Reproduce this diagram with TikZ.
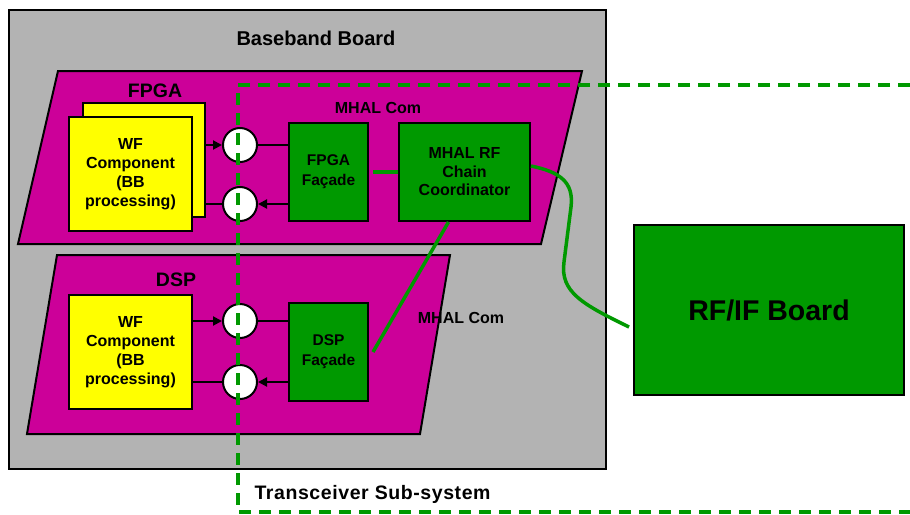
\documentclass[tikz,border=0pt]{standalone}
\usepackage{fontspec}
\setmainfont{Liberation Sans}
\usetikzlibrary{arrows.meta}
\definecolor{bbgray}{HTML}{B3B3B3}
\definecolor{mag}{HTML}{CC0099}
\definecolor{grn}{HTML}{009900}
\definecolor{yel}{HTML}{FFFF00}
\begin{document}
\begin{tikzpicture}[x=1pt,y=-1pt,
 box/.style={draw=black,line width=2pt,rectangle,inner sep=0pt,align=center,font=\bfseries\fontsize{16}{19}\selectfont},
 wf/.style={box,fill=yel,minimum width=123pt,minimum height=114pt},
 facade/.style={box,fill=grn,minimum width=79pt,minimum height=98pt,font=\bfseries\fontsize{15.5}{20}\selectfont},
 port/.style={circle,draw=black,line width=2pt,fill=white,minimum size=34pt,inner sep=0pt},
 link/.style={draw=black,line width=2pt},
 arr/.style={link,-{Triangle[length=9pt,width=9pt]}},
 gline/.style={draw=grn,line width=3.5pt},
 region/.style={draw=black,line width=2pt},
 lbl/.style={font=\bfseries\fontsize{19.5}{22}\selectfont},
 small/.style={font=\bfseries\fontsize{16}{18}\selectfont}
]
\useasboundingbox (0,0) rectangle (910,514);
% baseband board
\draw[region,fill=bbgray] (9,10) rectangle (606,469);
\node[font=\bfseries\fontsize{20}{22}\selectfont] (bbl) at (316,38) {Baseband Board};
% FPGA region
\draw[region,fill=mag] (58,71) -- (582,71) -- (541,244) -- (18,244) -- cycle;
\node[lbl] (fpgal) at (155,91) {FPGA};
\node[small] (mc1) at (378,108) {MHAL Com};
\node[wf,minimum width=122pt] (wfback) at (144,160) {};
\node[wf] (wf1) at (130.5,174) {WF\\Component\\(BB\\processing)};
\node[port] (p1) at (240,145) {};
\node[port] (p2) at (240,204) {};
\node[facade] (fpgaf) at (328.5,172) {FPGA\\Façade};
\node[box,fill=grn,minimum width=131pt,minimum height=98pt,font=\bfseries\fontsize{16}{18.5}\selectfont] (coord) at (464.5,172) {MHAL RF\\Chain\\Coordinator};
\draw[arr] (wfback.east |- p1) -- (p1.west);
\draw[link] (p1.east) -- (fpgaf.west |- p1);
\draw[link] (wfback.east |- p2) -- (p2.west);
\draw[arr] (fpgaf.west |- p2) -- (p2.east);
% DSP region
\draw[region,fill=mag] (57,255) -- (450,255) -- (420,434) -- (27,434) -- cycle;
\node[lbl] (dspl) at (176,280) {DSP};
\node[small] (mc2) at (461,318) {MHAL Com};
\node[wf] (wf2) at (130.5,352) {WF\\Component\\(BB\\processing)};
\node[port] (p3) at (240,321) {};
\node[port] (p4) at (240,382) {};
\node[facade] (dspf) at (328.5,352) {DSP\\Façade};
\draw[arr] (wf2.east |- p3) -- (p3.west);
\draw[link] (p3.east) -- (dspf.west |- p3);
\draw[link] (wf2.east |- p4) -- (p4.west);
\draw[arr] (dspf.west |- p4) -- (p4.east);
% RF board
\node[box,fill=grn,minimum width=270pt,minimum height=170pt,font=\bfseries\fontsize{28.5}{30}\selectfont] (rf) at (769,310) {RF/IF Board};
% green connections
\draw[gline] ([xshift=4pt]fpgaf.east) -- (coord.west);
\draw[gline] ([xshift=-16pt]coord.south) -- ([xshift=4pt]dspf.east);
\draw[gline] ([yshift=6pt]coord.east) .. controls (560,172) and (574,182) .. (571,207) -- (564,262) .. controls (560,292) and (582,304) .. ([xshift=-4pt,yshift=-17pt]rf.west);
% transceiver subsystem boundary
\coordinate (ts1) at (910,85);
\coordinate (ts2) at (238,85);
\coordinate (ts3) at (238,512);
\coordinate (ts4) at (910,512);
\draw[gline,dash pattern=on 12pt off 8pt] (ts1) -- (ts2) -- (ts3) -- (ts4);
\node[font=\bfseries\fontsize{19.5}{22}\selectfont\addfontfeatures{LetterSpace=3},anchor=west] (tsl) at (251,494) {Transceiver Sub-system};
\end{tikzpicture}
\end{document}
